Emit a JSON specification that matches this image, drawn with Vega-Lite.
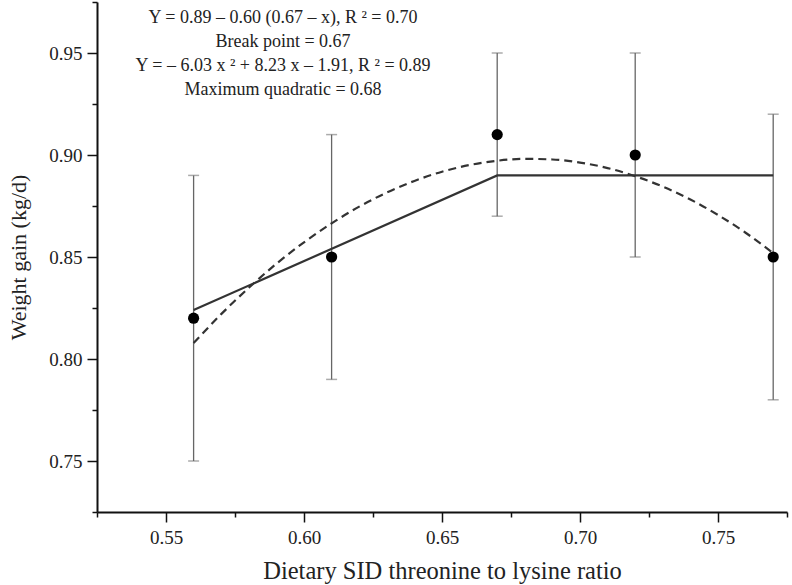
{
  "$schema": "https://vega.github.io/schema/vega-lite/v6.json",
  "width": 690,
  "height": 510,
  "autosize": {"type": "none"},
  "padding": {"left": 97, "top": 2, "right": 5, "bottom": 73},
  "background": "white",
  "title": {
    "text": ["Y = 0.89 – 0.60 (0.67 – x), R ² = 0.70", "Break point = 0.67", "Y = – 6.03 x ² + 8.23 x – 1.91, R ² = 0.89", "Maximum quadratic = 0.68"],
    "font": "Liberation Serif",
    "fontSize": 18,
    "fontWeight": "normal",
    "color": "#222",
    "anchor": "middle",
    "frame": "group",
    "dx": -159,
    "offset": -98,
    "lineHeight": 24
  },
  "config": {
    "view": {"stroke": null},
    "axis": {
      "grid": false,
      "domainColor": "#111",
      "domainWidth": 2,
      "tickColor": "#111",
      "tickWidth": 1.5,
      "labelFont": "Liberation Serif",
      "labelFontSize": 19,
      "labelColor": "#222",
      "titleFont": "Liberation Serif",
      "titleFontSize": 22,
      "titleFontWeight": "normal",
      "titleColor": "#222"
    }
  },
  "datasets": {
    "obs": [
      {"x": 0.56, "y": 0.82, "lo": 0.75, "hi": 0.89},
      {"x": 0.61, "y": 0.85, "lo": 0.79, "hi": 0.91},
      {"x": 0.67, "y": 0.91, "lo": 0.87, "hi": 0.95},
      {"x": 0.72, "y": 0.90, "lo": 0.85, "hi": 0.95},
      {"x": 0.77, "y": 0.85, "lo": 0.78, "hi": 0.92}
    ],
    "broken": [
      {"x": 0.56, "y": 0.824},
      {"x": 0.67, "y": 0.89},
      {"x": 0.77, "y": 0.89}
    ],
    "quad": [
      {"x": 0.56, "y": 0.8078},
      {"x": 0.57, "y": 0.8220},
      {"x": 0.58, "y": 0.8349},
      {"x": 0.59, "y": 0.8467},
      {"x": 0.60, "y": 0.8572},
      {"x": 0.61, "y": 0.8665},
      {"x": 0.62, "y": 0.8747},
      {"x": 0.63, "y": 0.8816},
      {"x": 0.64, "y": 0.8873},
      {"x": 0.65, "y": 0.8918},
      {"x": 0.66, "y": 0.8951},
      {"x": 0.67, "y": 0.8972},
      {"x": 0.68, "y": 0.8981},
      {"x": 0.69, "y": 0.8978},
      {"x": 0.70, "y": 0.8963},
      {"x": 0.71, "y": 0.8936},
      {"x": 0.72, "y": 0.8896},
      {"x": 0.73, "y": 0.8845},
      {"x": 0.74, "y": 0.8782},
      {"x": 0.75, "y": 0.8706},
      {"x": 0.76, "y": 0.8619},
      {"x": 0.77, "y": 0.8519}
    ]
  },
  "layer": [
    {
      "data": {"name": "obs"},
      "mark": {"type": "errorbar", "color": "#666", "thickness": 1.3, "ticks": {"size": 11, "color": "#888", "thickness": 1.5}},
      "encoding": {
        "x": {
          "field": "x", "type": "quantitative",
          "scale": {"domain": [0.525, 0.775], "nice": false, "zero": false},
          "axis": {
            "title": "Dietary SID threonine to lysine ratio",
            "titleFontSize": 24.5,
            "values": [0.525, 0.55, 0.575, 0.6, 0.625, 0.65, 0.675, 0.7, 0.725, 0.75, 0.775],
            "labelExpr": "round(datum.value*1000) % 50 == 0 ? format(datum.value, '.2f') : ''",
            "tickSize": {"condition": {"test": "round(datum.value*1000) % 50 != 0", "value": 5}, "value": 10},
            "labelPadding": 6,
            "titlePadding": 12
          }
        },
        "y": {
          "field": "lo", "type": "quantitative",
          "scale": {"domain": [0.725, 0.975], "nice": false, "zero": false},
          "axis": {
            "title": "Weight gain (kg/d)",
            "values": [0.725, 0.75, 0.775, 0.8, 0.825, 0.85, 0.875, 0.9, 0.925, 0.95, 0.975],
            "labelExpr": "round(datum.value*1000) % 50 == 0 ? format(datum.value, '.2f') : ''",
            "tickSize": {"condition": {"test": "round(datum.value*1000) % 50 != 0", "value": 5}, "value": 10},
            "labelPadding": 5,
            "titlePadding": 18
          }
        },
        "y2": {"field": "hi"}
      }
    },
    {
      "data": {"name": "broken"},
      "mark": {"type": "line", "color": "#333", "strokeWidth": 2.2},
      "encoding": {
        "x": {"field": "x", "type": "quantitative", "title": "Dietary SID threonine to lysine ratio"},
        "y": {"field": "y", "type": "quantitative", "title": "Weight gain (kg/d)"}
      }
    },
    {
      "data": {"name": "quad"},
      "mark": {"type": "line", "color": "#333", "strokeWidth": 2.2, "strokeDash": [8, 5], "interpolate": "monotone"},
      "encoding": {
        "x": {"field": "x", "type": "quantitative", "title": "Dietary SID threonine to lysine ratio"},
        "y": {"field": "y", "type": "quantitative", "title": "Weight gain (kg/d)"}
      }
    },
    {
      "data": {"name": "obs"},
      "mark": {"type": "point", "shape": "circle", "filled": true, "color": "#000", "opacity": 1, "size": 125},
      "encoding": {
        "x": {"field": "x", "type": "quantitative", "title": "Dietary SID threonine to lysine ratio"},
        "y": {"field": "y", "type": "quantitative", "title": "Weight gain (kg/d)"}
      }
    }
  ]
}
